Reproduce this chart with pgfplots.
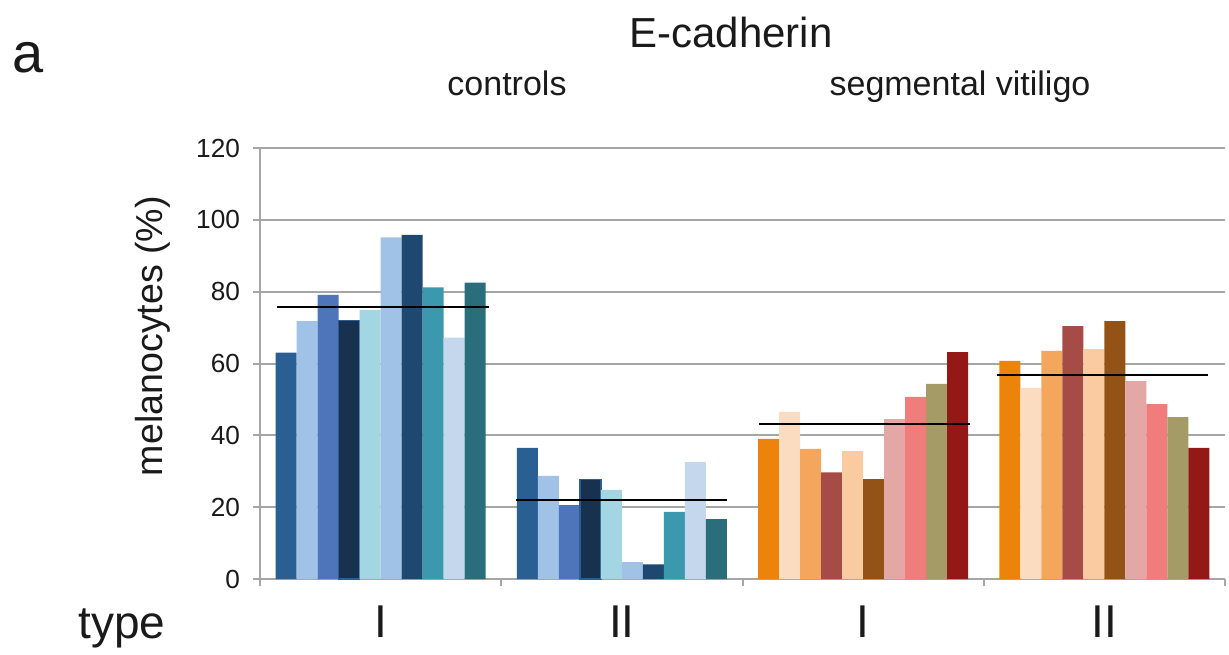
\documentclass[border=0pt]{standalone}
\usepackage{fontspec}
\setmainfont{Liberation Sans}
\usepackage{pgfplots}
\pgfplotsset{compat=1.18}
\definecolor{gridgray}{HTML}{A6A6A6}
\definecolor{txt}{HTML}{1A1A1A}
\definecolor{c1}{HTML}{2A5F93}
\definecolor{c2}{HTML}{A0C2E7}
\definecolor{c3}{HTML}{4E74BA}
\definecolor{c4}{HTML}{17314F}
\definecolor{c5}{HTML}{A3D5E3}
\definecolor{c6}{HTML}{A0C2E7}
\definecolor{c7}{HTML}{1F4871}
\definecolor{c8}{HTML}{3C98AD}
\definecolor{c9}{HTML}{C5D7EC}
\definecolor{c10}{HTML}{2A6E7C}
\definecolor{v1}{HTML}{EC830B}
\definecolor{v2}{HTML}{FBDCC0}
\definecolor{v3}{HTML}{F4A65C}
\definecolor{v4}{HTML}{A64B46}
\definecolor{v5}{HTML}{FACAA1}
\definecolor{v6}{HTML}{935316}
\definecolor{v7}{HTML}{E3A8A5}
\definecolor{v8}{HTML}{F07C7B}
\definecolor{v9}{HTML}{A59B66}
\definecolor{v10}{HTML}{941816}
\begin{document}
\begin{tikzpicture}
\path[use as bounding box] (0,0) rectangle (614.5pt,327pt);
\begin{axis}[
  at={(130pt,37.5pt)}, anchor=south west,
  scale only axis, width=482.5pt, height=215.5pt,
  xmin=-1.25, xmax=44.75, ymin=0, ymax=120,
  ybar, bar width=1, bar shift=0pt,
  axis x line*=bottom, axis y line*=left,
  axis line style={gridgray, line width=1pt},
  ytick={0,20,...,120},
  xtick={-1.25,10.25,21.75,33.25,44.75}, xticklabels={},
  extra x ticks={4.5,16,27.5,39},
  extra x tick labels={I,II,I,II},
  extra x tick style={major tick length=0pt, grid=none,
    tick label style={font=\fontsize{23}{27}\selectfont, text=txt, anchor=base, yshift=-29pt}},
  tick align=outside, major tick length=3.5pt,
  tick style={gridgray, line width=1pt},
  ymajorgrids, grid style={gridgray, line width=1pt},
  yticklabel style={font=\fontsize{13.1}{15}\selectfont, text=txt, xshift=-3pt},
  /pgf/number format/assume math mode=true,
  clip=false,
]
\addplot[fill=c1, draw=none] coordinates {(0,63.0) (11.5,36.5)};
\addplot[fill=c2, draw=none] coordinates {(1,71.8) (12.5,28.7)};
\addplot[fill=c3, draw=none] coordinates {(2,79.1) (13.5,20.6)};
\addplot[fill=c4, draw=c1, line width=0.6pt] coordinates {(3,72.0) (14.5,27.8)};
\addplot[fill=c5, draw=none] coordinates {(4,74.9) (15.5,24.8)};
\addplot[fill=c6, draw=none] coordinates {(5,95.1) (16.5,4.7)};
\addplot[fill=c7, draw=none] coordinates {(6,95.8) (17.5,4.1)};
\addplot[fill=c8, draw=none] coordinates {(7,81.2) (18.5,18.7)};
\addplot[fill=c9, draw=none] coordinates {(8,67.2) (19.5,32.6)};
\addplot[fill=c10, draw=none] coordinates {(9,82.5) (20.5,16.7)};
\addplot[fill=v1, draw=none] coordinates {(23,39.0) (34.5,60.7)};
\addplot[fill=v2, draw=none] coordinates {(24,46.5) (35.5,53.2)};
\addplot[fill=v3, draw=none] coordinates {(25,36.2) (36.5,63.5)};
\addplot[fill=v4, draw=none] coordinates {(26,29.7) (37.5,70.4)};
\addplot[fill=v5, draw=none] coordinates {(27,35.6) (38.5,64.0)};
\addplot[fill=v6, draw=none] coordinates {(28,27.8) (39.5,71.8)};
\addplot[fill=v7, draw=none] coordinates {(29,44.5) (40.5,55.1)};
\addplot[fill=v8, draw=none] coordinates {(30,50.7) (41.5,48.7)};
\addplot[fill=v9, draw=none] coordinates {(31,54.3) (42.5,45.1)};
\addplot[fill=v10, draw=none] coordinates {(32,63.2) (43.5,36.5)};
\addplot[sharp plot, black, line width=0.9pt, no marks] coordinates {(-0.44,75.8) (9.66,75.8)};
\addplot[sharp plot, black, line width=0.9pt, no marks] coordinates {(10.95,22.0) (21.0,22.0)};
\addplot[sharp plot, black, line width=0.9pt, no marks] coordinates {(22.53,43.1) (32.59,43.1)};
\addplot[sharp plot, black, line width=0.9pt, no marks] coordinates {(33.88,56.9) (43.94,56.9)};
\end{axis}
\node[anchor=base west, inner sep=0pt, text=txt, font=\fontsize{28}{32}\selectfont] at (6pt,290.5pt) {a};
\node[anchor=base, inner sep=0pt, text=txt, font=\fontsize{21}{25}\selectfont] at (365.5pt,303pt) {E-cadherin};
\node[anchor=base, inner sep=0pt, text=txt, font=\fontsize{17}{20}\selectfont] at (253.5pt,279pt) {controls};
\node[anchor=base, inner sep=0pt, text=txt, font=\fontsize{17}{20}\selectfont] at (480pt,279pt) {segmental vitiligo};
\node[anchor=base, rotate=90, inner sep=0pt, text=txt, font=\fontsize{18.8}{22}\selectfont] at (81pt,159pt) {melanocytes (\%)};
\node[anchor=base west, inner sep=0pt, text=txt, font=\fontsize{23}{27}\selectfont] at (39pt,8pt) {type};
\end{tikzpicture}
\end{document}
